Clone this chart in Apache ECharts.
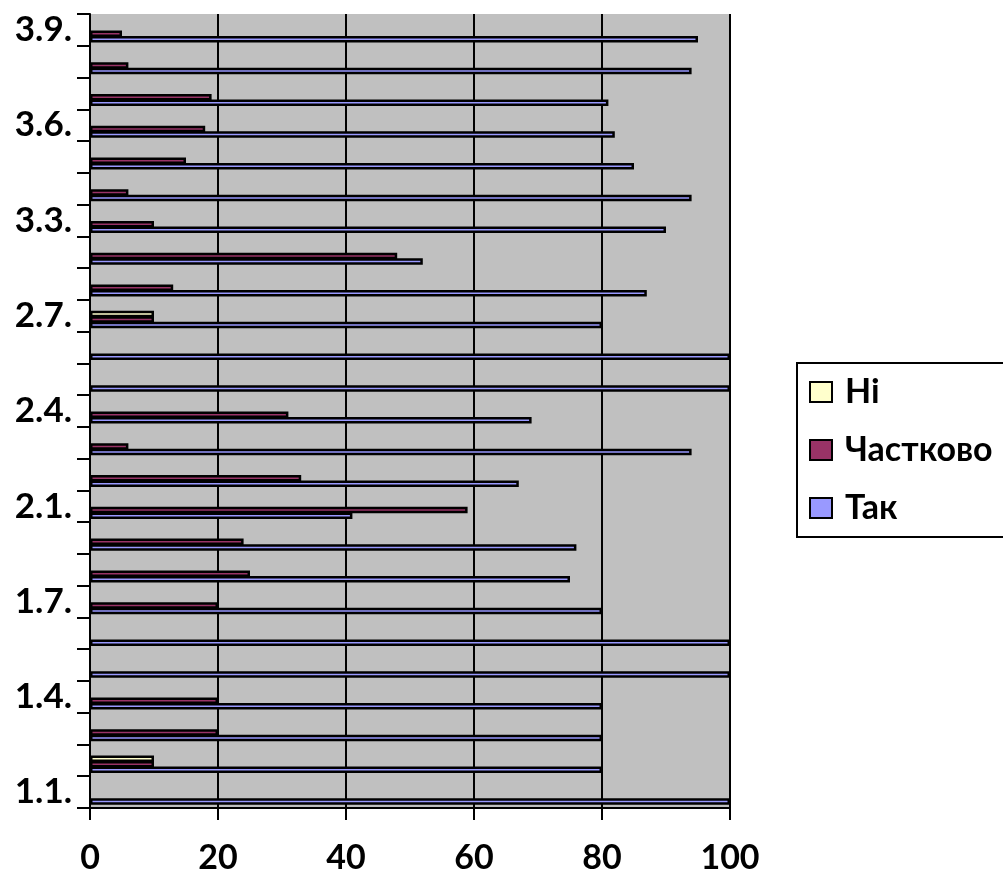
<!DOCTYPE html>
<html>
<head>
<meta charset="utf-8">
<script src="https://cdn.jsdelivr.net/npm/echarts@6/dist/echarts.min.js"></script>
<style>
  html, body { margin: 0; padding: 0; background: #ffffff; }
  #chart { width: 1003px; height: 875px; }
</style>
</head>
<body>
<div id="chart"></div>
<script>
// Survey items, bottom to top
const categories = ['1.1.', '1.2.', '1.3.', '1.4.', '1.5.', '1.6.', '1.7.', '1.8.', '1.9.',
  '2.1.', '2.2.', '2.3.', '2.4.', '2.5.', '2.6.', '2.7.',
  '3.1.', '3.2.', '3.3.', '3.4.', '3.5.', '3.6.', '3.7.', '3.8.', '3.9.'];

// Share of answers, %
const tak       = [100, 80, 80, 80, 100, 100, 80, 75, 76, 41, 67, 94, 69, 100, 100, 80, 87, 52, 90, 94, 85, 82, 81, 94, 95];
const chastkovo = [0, 10, 20, 20, 0, 0, 20, 25, 24, 59, 33, 6, 31, 0, 0, 10, 13, 48, 10, 6, 15, 18, 19, 6, 5];
const ni        = [0, 10, 0, 0, 0, 0, 0, 0, 0, 0, 0, 0, 0, 0, 0, 10, 0, 0, 0, 0, 0, 0, 0, 0, 0];

const xTicks = { min: 0, max: 100, interval: 20 };

const FONT = 'Lato, "Open Sans", sans-serif';

function barSeries(name, data, color) {
  return {
    name: name,
    type: 'bar',
    // zero shares are left without a bar stub
    data: data.map(v => (v === 0 ? '-' : v)),
    barWidth: 6.5,
    barGap: '-15%',
    itemStyle: { color: color, borderColor: '#000000', borderWidth: 2.5 },
    emphasis: { disabled: true },
    animation: false
  };
}

const chart = echarts.init(document.getElementById('chart'), null, { renderer: 'canvas' });
chart.setOption({
  backgroundColor: '#ffffff',
  animation: false,
  grid: {
    left: 90, right: 273, top: 14, bottom: 62,
    show: true, backgroundColor: '#c0c0c0', borderWidth: 0
  },
  legend: {
    data: ['Ні', 'Частково', 'Так'],
    orient: 'vertical',
    left: 797, top: 363,
    itemWidth: 22, itemHeight: 20, itemGap: 24,
    padding: [12, 60, 12, 12],
    backgroundColor: '#ffffff',
    borderColor: '#000000', borderWidth: 2, borderRadius: 0,
    icon: 'rect',
    selectedMode: false,
    itemStyle: { borderWidth: 2 },
    textStyle: { fontFamily: FONT, fontWeight: 'bold', fontSize: 34, color: '#000000', padding: [0, 0, 0, 8] }
  },
  xAxis: {
    type: 'value',
    min: xTicks.min, max: xTicks.max, interval: xTicks.interval,
    axisLine: { show: true, lineStyle: { color: '#000000', width: 2 } },
    axisTick: { show: true, length: 12, lineStyle: { color: '#000000', width: 2 } },
    splitLine: { show: true, lineStyle: { color: '#000000', width: 2 } },
    axisLabel: { fontFamily: FONT, fontWeight: 'bold', fontSize: 34, color: '#000000', margin: 33 }
  },
  yAxis: {
    type: 'category',
    data: categories,
    axisLine: { show: true, lineStyle: { color: '#000000', width: 2 } },
    axisTick: { show: true, interval: 0, length: 13, lineStyle: { color: '#000000', width: 2 } },
    axisLabel: {
      interval: 2, fontFamily: FONT, fontWeight: 'bold', fontSize: 35, color: '#000000',
      margin: 18, padding: [6, 0, 0, 0]
    },
    splitLine: { show: false }
  },
  series: [
    // empty slot above each group so the three bars sit in the lower part of the band
    { name: 'gap', type: 'bar', data: [], barWidth: 9, barGap: '-15%', silent: true, animation: false },
    barSeries('Ні', ni, '#ffffcc'),
    barSeries('Частково', chastkovo, '#993366'),
    barSeries('Так', tak, '#9999ff')
  ]
});
</script>
</body>
</html>
